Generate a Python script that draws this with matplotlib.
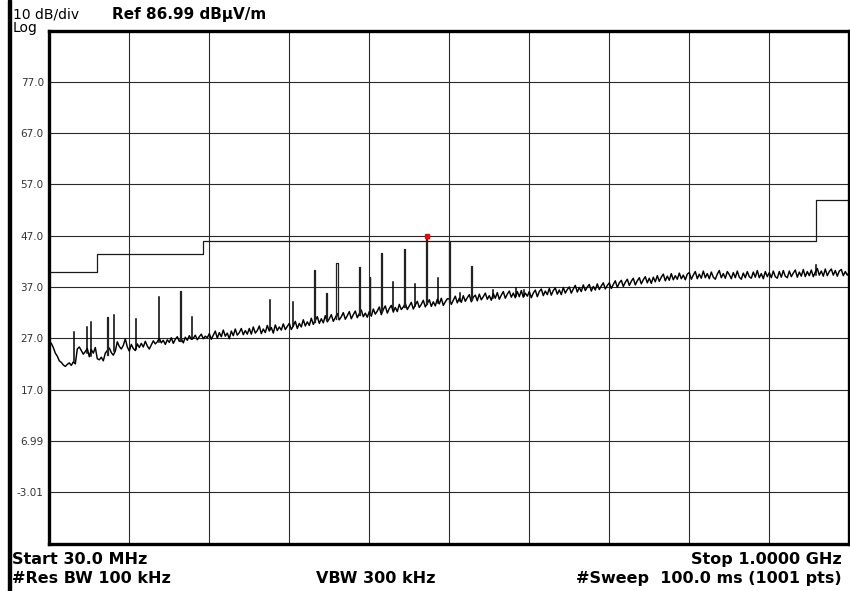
import matplotlib
matplotlib.use('Agg')
import matplotlib.pyplot as plt
from matplotlib.patches import Rectangle
import numpy as np

# ---------------- data ----------------
f_start, f_stop = 30.0, 1000.0
ref_level = 86.99
y_bottom = -13.01

ytick_vals = [77.0, 67.0, 57.0, 47.0, 37.0, 27.0, 17.0, 6.99, -3.01]
ytick_labels = ["77.0", "67.0", "57.0", "47.0", "37.0", "27.0", "17.0", "6.99", "-3.01"]

# noise floor, 401 readings evenly over the sweep (dBuV/m)
floor_level = [
    26.3, 26.0, 25.2, 24.1, 23.5, 22.6, 22.3, 21.8, 21.5, 21.9, 22.2, 21.7, 22.4, 22.0, 24.9, 25.3, 24.6, 23.9, 24.4, 25.0,
    23.4, 24.8, 24.1, 25.2, 23.0, 22.8, 23.3, 22.6, 24.1, 24.6, 25.1, 24.2, 23.7, 24.5, 26.3, 25.4, 24.9, 25.6, 26.9, 25.3,
    24.5, 25.8, 25.0, 24.6, 25.9, 25.2, 26.0, 25.3, 26.4, 25.5, 24.9, 25.7, 26.5, 25.9, 26.3, 27.0, 26.1, 26.6, 25.8, 26.7,
    26.2, 27.1, 26.0, 26.8, 27.3, 26.4, 26.9, 26.1, 27.2, 26.6, 27.5, 26.8, 27.0, 27.6, 26.7, 27.3, 27.8, 26.9, 27.4, 27.1,
    27.9, 26.8, 27.6, 28.4, 27.0, 28.1, 27.3, 28.6, 27.4, 28.0, 26.9, 28.4, 27.5, 28.8, 27.6, 28.1, 28.9, 27.7, 28.5, 27.8,
    28.9, 27.8, 29.2, 28.0, 28.5, 29.4, 27.9, 28.8, 28.1, 29.5, 28.4, 29.1, 28.0, 29.6, 28.5, 29.2, 28.6, 29.8, 28.7, 29.3,
    29.9, 28.7, 29.4, 30.3, 28.9, 29.9, 29.2, 30.6, 29.4, 30.2, 29.5, 30.9, 29.7, 30.5, 31.2, 29.9, 30.8, 30.0, 31.4, 30.2,
    30.8, 31.6, 30.3, 31.0, 31.8, 30.6, 31.2, 32.0, 30.7, 31.4, 32.2, 30.8, 31.6, 32.3, 31.0, 31.8, 32.5, 31.2, 31.9, 31.1,
    32.2, 31.3, 32.7, 31.7, 32.3, 33.1, 31.6, 32.6, 33.3, 31.9, 32.8, 33.4, 32.1, 33.0, 32.2, 33.6, 32.6, 33.1, 33.8, 32.6,
    33.3, 34.0, 32.7, 33.5, 34.2, 33.0, 33.6, 34.4, 33.1, 33.8, 34.5, 33.2, 34.1, 33.3, 34.6, 33.7, 34.8, 33.4, 34.1, 34.7,
    34.7, 33.6, 34.4, 35.2, 33.9, 34.8, 34.0, 35.3, 34.2, 34.9, 35.5, 34.1, 35.0, 35.4, 34.3, 35.6, 34.5, 35.1, 35.8, 34.6,
    35.3, 34.4, 35.7, 34.8, 35.9, 34.6, 35.4, 36.1, 34.8, 35.6, 36.2, 35.0, 35.8, 34.9, 36.1, 35.1, 36.3, 35.0, 35.8, 35.2,
    36.1, 34.9, 35.8, 36.4, 35.1, 36.1, 36.6, 35.3, 36.2, 35.5, 36.7, 35.4, 36.3, 36.8, 35.6, 36.4, 35.5, 36.9, 35.8, 36.5,
    37.0, 35.8, 36.6, 37.3, 36.0, 36.9, 36.1, 37.4, 36.3, 37.0, 37.5, 36.2, 37.1, 36.4, 37.6, 36.5, 37.2, 37.8, 36.6, 37.3,
    37.8, 36.7, 37.5, 38.2, 36.9, 37.8, 38.3, 37.1, 37.9, 38.5, 37.3, 38.1, 38.7, 37.4, 38.2, 38.8, 37.6, 38.4, 39.0, 37.8,
    38.7, 37.7, 38.9, 38.0, 39.2, 38.1, 38.9, 39.5, 38.2, 39.1, 38.3, 39.6, 38.4, 39.2, 38.5, 39.7, 38.6, 39.3, 38.4, 39.5,
    39.8, 38.5, 39.3, 40.0, 38.6, 39.5, 38.7, 40.1, 38.8, 39.6, 38.6, 39.9, 38.9, 38.5, 39.5, 40.2, 38.8, 39.6, 38.7, 40.0,
    39.4, 38.6, 39.8, 38.8, 40.1, 38.9, 38.5, 39.7, 38.8, 40.0, 39.0, 38.7, 39.9, 38.9, 40.2, 38.8, 39.6, 38.6, 40.0, 39.0,
    39.8, 38.8, 40.1, 39.0, 38.7, 40.0, 38.9, 40.2, 39.1, 38.8, 40.1, 39.0, 39.7, 40.3, 38.9, 39.9, 39.1, 40.4, 39.0, 40.0,
    39.2, 40.3, 39.0, 39.9, 40.6, 39.3, 40.1, 39.1, 40.5, 39.2, 40.0, 40.5, 39.3, 40.2, 39.1, 40.1, 40.4, 39.2, 40.0, 39.3,
    39.8,
]

# discrete emissions: frequency (MHz), peak (dB), base (dB), width (MHz)
spike_freq = [60.5, 75.5, 80.5, 100.5, 108.0, 135.5, 162.5, 189.0, 203.0,
              298.0, 325.0, 352.0, 366.0, 379.0, 406.0, 419.0, 433.0, 447.0,
              460.5, 474.0, 487.5, 501.0, 515.0, 528.0, 542.0, 568.0, 596.0,
              605.0, 960.0]
spike_peak = [28.2, 29.2, 30.2, 31.2, 31.6, 30.7, 35.0, 36.2, 31.1,
              34.5, 34.1, 40.4, 35.9, 41.6, 40.9, 38.9, 43.6, 37.9,
              44.4, 37.5, 46.9, 38.7, 45.7, 35.9, 41.1, 36.5, 36.7,
              36.5, 41.3]
spike_base = [22.5, 24.2, 23.5, 23.8, 24.5, 25.0, 26.2, 26.5, 26.8,
              28.8, 29.3, 30.2, 30.5, 30.8, 31.5, 31.8, 32.3, 32.6,
              33.0, 33.3, 33.6, 33.9, 34.1, 34.3, 34.5, 34.9, 35.2,
              35.3, 39.4]
spike_width = [0, 0, 0, 2.0, 0, 0, 0, 0.8, 0,
               0, 0, 1.2, 2.0, 2.0, 2.0, 0.8, 1.2, 0,
               0.8, 0, 0.8, 0, 0.8, 0, 0.8, 0, 0,
               0, 0]

# FCC class B limit line
limit_freq = [30.0, 88.0, 216.0, 960.0, 1000.0]
limit_level = [40.0, 43.5, 46.0, 54.0, 54.0]

marker_freq = 487.5
marker_level = 46.9

# ---------------- figure ----------------
W, H = 850, 591
fig = plt.figure(figsize=(W / 100, H / 100), dpi=100)
fig.patch.set_facecolor('white')

ax_left, ax_right, ax_top, ax_bot = 49.3, 849.3, 30.5, 543.5
ax = fig.add_axes([ax_left / W, 1 - ax_bot / H, (ax_right - ax_left) / W, (ax_bot - ax_top) / H])
ax.set_xlim(f_start, f_stop)
ax.set_ylim(y_bottom, ref_level)

grid_c = '#2a2a2a'
xgrid = np.linspace(f_start, f_stop, 11)[1:-1]
for xv in xgrid:
    ax.axvline(xv, color=grid_c, lw=0.8, zorder=1)
for yv in ytick_vals:
    ax.axhline(yv, color=grid_c, lw=0.8, zorder=1)

ax.set_xticks([])
ax.set_yticks(ytick_vals)
ax.set_yticklabels(ytick_labels, fontsize=7.5, color='#333333')
ax.tick_params(axis='y', length=0, pad=4)

for s in ax.spines.values():
    s.set_linewidth(2.4)
    s.set_color('black')

# limit line
ax.step(limit_freq, limit_level, where='post', color='#1a1a1a', lw=0.9, zorder=2)

# trace floor
floor_freq = np.linspace(f_start, f_stop, len(floor_level))
ax.plot(floor_freq, floor_level, color='black', lw=1.05, zorder=3)

# spikes
for fq, pk, bs, wd in zip(spike_freq, spike_peak, spike_base, spike_width):
    if wd > 0:
        ax.plot([fq - wd / 2, fq - wd / 2, fq + wd / 2, fq + wd / 2],
                [bs, pk, pk, bs], color='#222222', lw=0.9, zorder=3)
    else:
        ax.plot([fq, fq], [bs, pk], color='black', lw=1.1, zorder=3)

ax.plot([marker_freq], [marker_level], marker='s', ms=2.5, color='red', mec='red', zorder=5)

# left black bar
fig.add_artist(Rectangle((7.5 / W, 0), 3 / W, 1, transform=fig.transFigure,
                         color='black', zorder=10))

def ftext(x, y, s, **kw):
    fig.text(x / W, 1 - y / H, s, **kw)

ftext(13, 18.5, '10 dB/div', fontsize=10, va='baseline')
ftext(13, 32, 'Log', fontsize=10, va='baseline')
ftext(112, 19, 'Ref 86.99 dB\u00b5V/m', fontsize=11, fontweight='bold', va='baseline')

ftext(12, 564, 'Start 30.0 MHz', fontsize=11.5, fontweight='bold', va='baseline')
ftext(842, 564, 'Stop 1.0000 GHz', fontsize=11.5, fontweight='bold', va='baseline', ha='right')
ftext(12, 583, '#Res BW 100 kHz', fontsize=11.5, fontweight='bold', va='baseline')
ftext(316, 583, 'VBW 300 kHz', fontsize=11.5, fontweight='bold', va='baseline')
ftext(842, 583, '#Sweep  100.0 ms (1001 pts)', fontsize=11.5, fontweight='bold', va='baseline', ha='right')

fig.savefig('out.png', dpi=100, facecolor='white')
